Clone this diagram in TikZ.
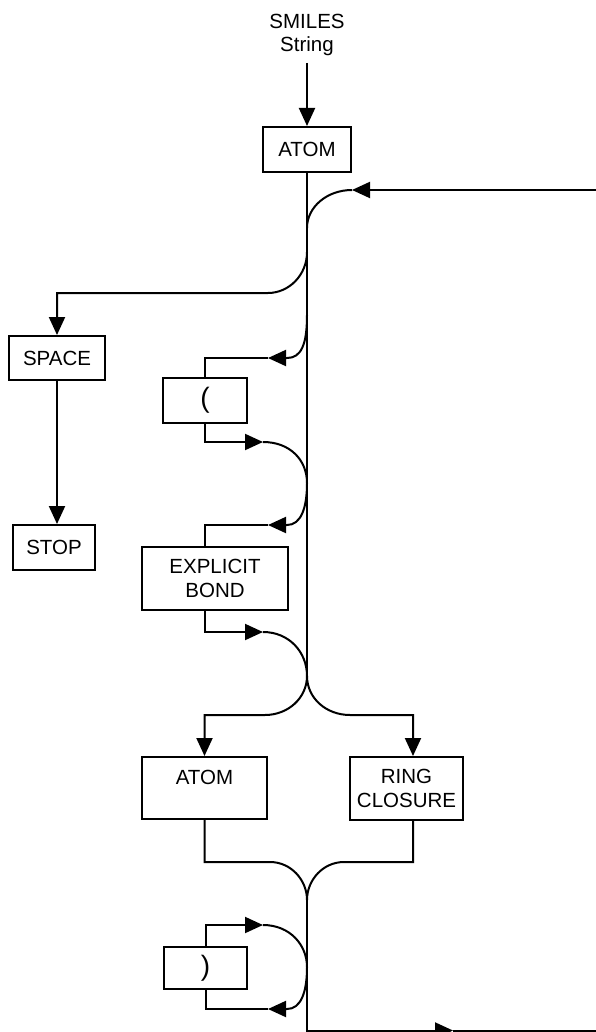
\documentclass[tikz,border=0pt]{standalone}
\usepackage{fontspec}
\setmainfont{Liberation Sans}
\usetikzlibrary{arrows.meta,calc}
\begin{document}
\begin{tikzpicture}[x=1pt,y=-1pt,
  line width=2pt,
  box/.style={draw,line width=2pt,inner sep=0pt,align=center,font=\fontsize{20.5}{23.5}\selectfont},
  parbox/.style={box,font=\fontsize{28}{30}\selectfont},
  lbl/.style={inner sep=0pt,align=center,font=\fontsize{20.5}{23.5}\selectfont},
  arr/.style={-{Triangle[length=18pt,width=16pt]}},
  ]
\useasboundingbox (0,0) rectangle (595,1032);

% nodes
\node[lbl] (smiles) at (307,35) {SMILES\\String};
\node[box,minimum width=88pt,minimum height=45pt] (atom1) at (307,149.5) {ATOM};
\node[box,minimum width=96pt,minimum height=44pt] (space) at (57,358) {SPACE};
\node[box,minimum width=82pt,minimum height=45pt] (stop) at (54,547.5) {STOP};
\node[parbox,minimum width=84pt,minimum height=45pt] (p1) at (205,400.5) {(};
\node[box,minimum width=146pt,minimum height=63pt] (bond) at (215,578.5) {EXPLICIT\\BOND};
\node[box,minimum width=125pt,minimum height=62pt] (atom2) at (204.5,788) {\raisebox{-2.5pt}{ATOM}\\\mbox{}};
\node[box,minimum width=113pt,minimum height=63pt] (ring) at (406.5,788.5) {\raisebox{-2.5pt}{RING}\\\raisebox{-2.5pt}{CLOSURE}};
\node[parbox,minimum width=83pt,minimum height=42pt] (p2) at (205.5,968) {)};

% coordinates
\coordinate (s0) at (307,63);
\coordinate (j5) at (307,676);
\coordinate (rin) at (596,190);
\coordinate (r1) at (352,190);
\coordinate (r2) at (307,228);
\coordinate (j1) at (307,252);
\coordinate (b1) at (268,293);
\coordinate (j2) at (307,315);
\coordinate (a2) at (268,358);
\coordinate (a3) at (263,442);
\coordinate (a4) at (268,525);
\coordinate (a5) at (263,632);
\coordinate (j6) at (307,900);
\coordinate (a7) at (453,1030.5);
\coordinate (rout) at (596,1030.5);
\coordinate (a8) at (263,925);
\coordinate (a9) at (268,1009);

% main line
\draw[arr] (s0) -- (atom1.north);
\draw (atom1.south) -- (j5);

% loop back from the right
\draw[arr] (rin) -- (r1);
\draw (r1) .. controls (327,190) and (307,207) .. (r2);

% to SPACE and STOP
\draw[arr] (j1) .. controls (307,275) and (289,293) .. (b1) -| (space.north);
\draw[arr] (space.south) -- (space.south |- stop.north);

% ( branch
\draw[arr] (j2) .. controls (307,345) and (301,358) .. (287,358) -- (a2);
\draw (a2) -| (p1.north);
\draw[arr] (p1.south) |- (a3);
\draw[arr] (a3) .. controls (290,442) and (307,460) .. (307,483)
  .. controls (307,508) and (301,525) .. (287,525) -- (a4);
\draw (a4) -| (p1.south |- bond.north);

% explicit bond
\draw[arr] (p1.south |- bond.south) |- (a5);
\draw (a5) .. controls (289,632) and (307,652) .. (j5);

% split to ATOM and RING CLOSURE
\draw[arr] (j5) .. controls (307,698) and (288,715) .. (265,715) -| (atom2.north);
\draw[arr] (j5) .. controls (307,698) and (326,715) .. (350,715) -| ($(ring.north)+(6.5,0)$);

% merge
\draw (atom2.south) |- (270,862) .. controls (291,862) and (307,880) .. (j6);
\draw ($(ring.south)+(6.5,0)$) |- (344,862) .. controls (323,862) and (307,880) .. (j6);
\draw[arr] (j6) |- (a7);
\draw (a7) -- (rout);

% ) loop
\draw[arr] (p2.north) |- (a8);
\draw[arr] (a8) .. controls (290,925) and (307,945) .. (307,967)
  .. controls (307,992) and (301,1009) .. (287,1009) -- (a9);
\draw (a9) -| (p2.south);
\end{tikzpicture}
\end{document}
